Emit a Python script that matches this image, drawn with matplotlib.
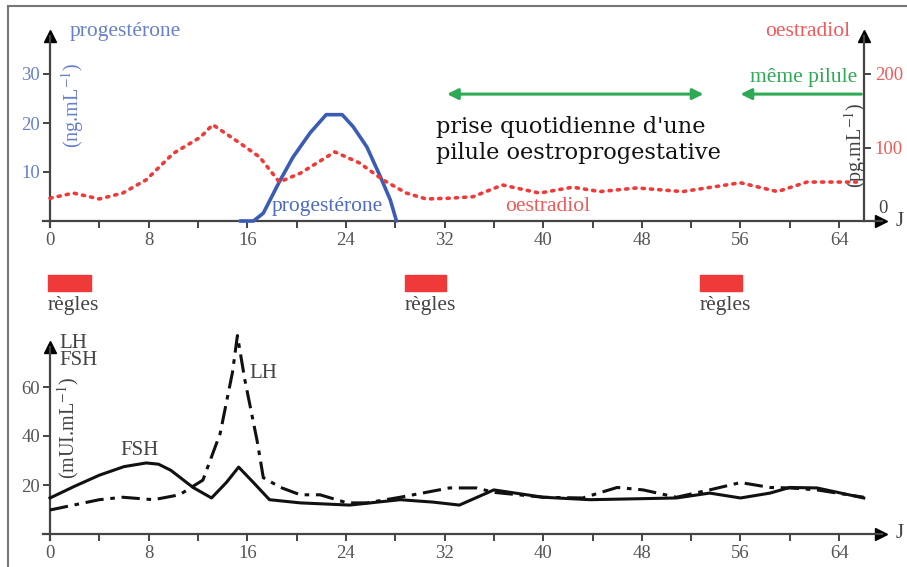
import matplotlib
matplotlib.use("Agg")
import matplotlib.pyplot as plt
from matplotlib.lines import Line2D

# ---- data (days of cycle) ----
prog_days = [15.4, 16.5, 17.3, 18.6, 19.7, 21.1, 22.4, 23.7, 24.6, 25.7, 26.8, 27.6, 28.1]
prog_vals = [0, 0, 1.6, 8, 13, 18, 21.7, 21.7, 19.2, 15.1, 9, 4.3, 0]          # ng/mL

oes_days = [0, 1.9, 4.0, 5.9, 7.8, 10, 12.2, 13.2, 15.4, 17, 18.6, 20.3, 23.1, 25.1, 27,
            28.9, 30.5, 32.4, 34.3, 36.7, 39.7, 42.4, 44.6, 47.6, 51.3, 56, 59, 61.4, 65.4]
oes_vals = [31, 38, 30, 38, 56, 92, 114, 131, 106, 87, 53, 65, 94, 79, 56,
            38, 30, 31, 33, 49, 38, 46, 40, 45, 40, 52, 40, 53, 53]                # pg/mL

fsh_days = [0, 2, 4, 6, 7.8, 8.8, 9.8, 11.6, 13.1, 14.3, 15.3, 16.5, 17.8, 20.3, 24.3, 28.4,
            31.1, 33.2, 36, 40, 43.8, 50.8, 53.5, 56, 58.4, 60, 62.2, 66]
fsh_vals = [14.7, 19.5, 24, 27.5, 29, 28.5, 26, 19, 14.7, 21, 27.3, 21, 14, 12.7, 11.8, 14,
            13, 11.8, 18, 15, 14, 14.7, 16.7, 14.7, 16.7, 19, 18.8, 14.7]          # mUI/mL

lh_days = [0, 4, 5.9, 8.4, 10.5, 12.4, 13.8, 14.8, 15.2, 15.8, 16.8, 17.3, 18.7, 20.3, 21.9,
           24.1, 25.7, 28.4, 32.4, 34.6, 36, 40, 43.2, 46, 48.1, 50.8, 53.5, 56, 58.4, 60, 62.2, 66]
lh_vals = [9.8, 14, 15, 14, 16, 22, 41, 66, 81, 63, 38, 23, 19, 16, 16,
           12.7, 12.7, 15, 18.8, 18.8, 17, 15, 14.7, 19, 18, 15, 18, 21, 19, 18.8, 18, 15]

regles_start = [-0.2, 28.8, 52.7]
regles_len = [3.5, 3.3, 3.4]
pilule_span = (32.2, 53.0)     # double arrow
meme_span = (65.8, 56.0)       # single arrow, head on the left

BLUE = "#3a5cb5"
BLUE_TXT = "#6680cc"
RED = "#f03a3a"
RED_TXT = "#f05a5a"
GREEN = "#2eaa55"
GREY = "#444444"
SERIF = ["Liberation Serif", "DejaVu Serif"]
plt.rcParams["font.family"] = SERIF
plt.rcParams["mathtext.fontset"] = "stix"

W, H = 907, 567
PXD = 12.33          # px per day
X0 = 50              # px of day 0
fig = plt.figure(figsize=(W / 100, H / 100), dpi=100)


def place(y0px, pxu, ylo, yhi, xlo=-2, xhi=69):
    left = (X0 + xlo * PXD) / W
    width = (xhi - xlo) * PXD / W
    bot = (H - (y0px - ylo * pxu)) / H
    height = (yhi - ylo) * pxu / H
    ax = fig.add_axes([left, bot, width, height])
    ax.set_xlim(xlo, xhi)
    ax.set_ylim(ylo, yhi)
    ax.patch.set_alpha(0)
    return ax


def style_axes(ax, ytop):
    for s in ("top", "right"):
        ax.spines[s].set_visible(False)
    ax.spines["left"].set_position(("data", 0))
    ax.spines["bottom"].set_position(("data", 0))
    ax.spines["bottom"].set_bounds(-0.6, 67.5)
    ax.spines["left"].set_bounds(-1.2 * ytop / 40, ytop)
    for s in ("left", "bottom"):
        ax.spines[s].set_color(GREY)
        ax.spines[s].set_linewidth(1.6)
    ax.plot([67.4], [0], marker=">", ms=9, color="k", clip_on=False)
    ax.plot([0], [ytop], marker="^", ms=9, color="k", clip_on=False)
    ax.set_xticks(range(0, 65, 8))
    ax.set_xticks(range(4, 65, 8), minor=True)
    ax.tick_params(axis="x", which="both", direction="out", length=5, width=1.4,
                   color=GREY, labelsize=13.5, labelcolor="#555555", pad=3)
    ax.tick_params(axis="y", direction="out", length=5, width=1.4, color=GREY,
                   labelsize=13.5, pad=2)
    ax.text(68.6, 0, "J", fontsize=15, color=GREY, ha="left", va="center")


# ---------------- top panel: ovarian hormones ----------------
ax = place(221, 4.9, -16, 42)
style_axes(ax, 37.8)
ax.set_yticks([10, 20, 30])
ax.tick_params(axis="y", labelcolor=BLUE_TXT)

ax.plot(prog_days, prog_vals, color=BLUE, lw=2.6, solid_capstyle="round", zorder=3)

ax2 = ax.twinx()
k = 200 / 30.0
ax2.set_ylim(-16 * k, 42 * k)
ax2.patch.set_alpha(0)
for s in ("top", "left", "bottom"):
    ax2.spines[s].set_visible(False)
ax2.spines["right"].set_position(("data", 66))
ax2.spines["right"].set_bounds(0, 37.8 * k)
ax2.spines["right"].set_color(GREY)
ax2.spines["right"].set_linewidth(1.6)
ax2.plot([66], [37.8 * k], marker="^", ms=9, color="k", clip_on=False)
ax2.set_yticks([100, 200])
ax2.tick_params(axis="y", direction="out", length=5, width=1.4, color=GREY,
                labelsize=13.5, labelcolor=RED_TXT, pad=3)
ax2.text(67.2, 6, "0", color=GREY, fontsize=13.5, ha="left", va="bottom")
ax2.plot(oes_days, oes_vals, color=RED, lw=2.6, ls=(0, (0.6, 1.7)),
         dash_capstyle="round", zorder=2)

ax.text(1.6, 38.6, "progestérone", color=BLUE_TXT, fontsize=15.5, ha="left", va="center")
ax.text(64.9, 38.6, "oestradiol", color=RED_TXT, fontsize=15.5, ha="right", va="center")
ax.text(18.0, 2.9, "progestérone", color="#4d6cc4", fontsize=15.5, ha="left", va="center")
ax.text(36.9, 2.9, "oestradiol", color=RED_TXT, fontsize=15.5, ha="left", va="center")
ax.text(1.8, 23.7, "(ng.mL$^{-1}$)", color=BLUE_TXT, fontsize=14.5, rotation=90,
        ha="center", va="center")
ax.text(65.3, 15.5, "(pg.mL$^{-1}$)", color=GREY, fontsize=14.5, rotation=90,
        ha="center", va="center")

# pill-taking arrows
ax.annotate("", xy=(pilule_span[0], 25.9), xytext=(pilule_span[1], 25.9),
            arrowprops=dict(arrowstyle="<|-|>", color=GREEN, lw=2.2,
                            mutation_scale=16, shrinkA=0, shrinkB=0))
ax.annotate("", xy=(meme_span[1], 25.9), xytext=(meme_span[0], 25.9),
            arrowprops=dict(arrowstyle="-|>", color=GREEN, lw=2.2,
                            mutation_scale=16, shrinkA=0, shrinkB=0))
ax.text(65.5, 29.2, "même pilule", color=GREEN, fontsize=15.5, ha="right", va="center")
ax.text(31.3, 16.6, "prise quotidienne d'une\npilule oestroprogestative", color="#111111",
        fontsize=16.2, family=["DejaVu Serif"], ha="left", va="center", linespacing=1.25)

# menstruation bars
bars = ax.broken_barh(list(zip(regles_start, regles_len)), (-14.3, 3.3), color=RED)
bars.set_clip_on(False)
for s in regles_start:
    ax.text(s, -17.3, "règles", color=GREY, fontsize=15.5, ha="left", va="center")

# ---------------- bottom panel: pituitary hormones ----------------
bx = place(534, 2.45, -6, 84)
style_axes(bx, 76.5)
bx.set_yticks([20, 40, 60])
bx.tick_params(axis="y", labelcolor="#555555")
bx.plot(fsh_days, fsh_vals, color="#111111", lw=2.2, zorder=3)
bx.plot(lh_days, lh_vals, color="#111111", lw=2.2, ls=(0, (6, 2.2, 1.5, 2.2)), zorder=3)
bx.text(0.8, 81.5, "LH\nFSH", color=GREY, fontsize=15, ha="left", va="top", linespacing=0.8)
bx.text(1.5, 43.3, "(mUI.mL$^{-1}$)", color=GREY, fontsize=14.5, rotation=90,
        ha="center", va="center")
bx.text(5.7, 33.9, "FSH", color=GREY, fontsize=15, ha="left", va="center")
bx.text(16.2, 65.7, "LH", color=GREY, fontsize=15, ha="left", va="center")

# page frame (left and top edges)
fig.add_artist(Line2D([8 / W, 8 / W], [0, 1 - 6 / H], color="#777777", lw=1.5))
fig.add_artist(Line2D([8 / W, 1], [1 - 6 / H, 1 - 6 / H], color="#777777", lw=1.5))

fig.savefig("out.png", dpi=100)
